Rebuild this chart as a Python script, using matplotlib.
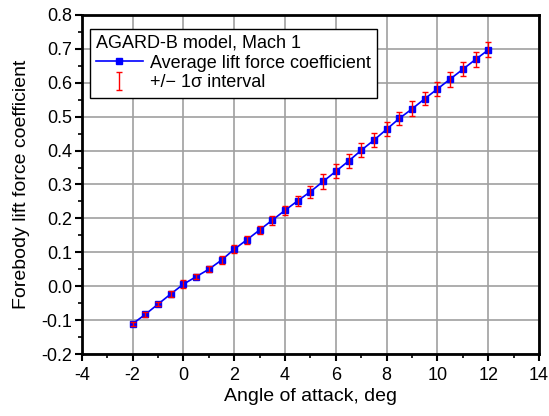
import matplotlib.pyplot as plt
from matplotlib.ticker import MultipleLocator

plt.rcParams['font.family'] = ['Liberation Sans', 'DejaVu Sans']
plt.rcParams['axes.unicode_minus'] = False

# angle of attack, deg
alpha = [-2.0, -1.5, -1.0, -0.5, 0.0, 0.5, 1.0, 1.5, 2.0, 2.5, 3.0, 3.5, 4.0, 4.5,
         5.0, 5.5, 6.0, 6.5, 7.0, 7.5, 8.0, 8.5, 9.0, 9.5, 10.0, 10.5, 11.0, 11.5, 12.0]
# average forebody lift force coefficient
cl_mean = [-0.111, -0.083, -0.053, -0.023, 0.006, 0.028, 0.050, 0.077, 0.109, 0.137,
           0.166, 0.195, 0.224, 0.252, 0.279, 0.309, 0.339, 0.369, 0.401, 0.431,
           0.463, 0.495, 0.523, 0.553, 0.582, 0.611, 0.640, 0.669, 0.697]
# 1 sigma
cl_sigma = [0.005, 0.007, 0.006, 0.009, 0.012, 0.008, 0.009, 0.011, 0.012, 0.012,
            0.011, 0.013, 0.014, 0.014, 0.018, 0.021, 0.021, 0.021, 0.021, 0.020,
            0.021, 0.020, 0.022, 0.020, 0.021, 0.022, 0.021, 0.022, 0.022]

fig = plt.figure(figsize=(5.49, 4.16), dpi=100)
ax = fig.add_axes([0.149, 0.149, 0.833, 0.815])

ax.plot(alpha, cl_mean, color='blue', lw=1.2, marker='s', ms=4.5,
        label='Average lift force coefficient', zorder=3)
ax.errorbar(alpha, cl_mean, yerr=cl_sigma, fmt='none', ecolor='red', elinewidth=1,
            capsize=2, capthick=1, label='+/\u2212 1\u03c3 interval', zorder=4)

ax.set_xlim(-4, 14)
ax.set_ylim(-0.2, 0.8)
ax.xaxis.set_major_locator(MultipleLocator(2))
ax.xaxis.set_minor_locator(MultipleLocator(1))
ax.yaxis.set_major_locator(MultipleLocator(0.1))
ax.yaxis.set_minor_locator(MultipleLocator(0.05))
ax.yaxis.set_major_formatter(plt.FormatStrFormatter('%.1f'))
ax.grid(True, which='major', color='#a0a0a0', lw=1.2)
ax.set_axisbelow(True)

for s in ax.spines.values():
    s.set_linewidth(2)
ax.tick_params(which='major', direction='out', length=5, width=1.5, labelsize=13)
ax.tick_params(axis='x', which='major', pad=4)
ax.tick_params(axis='y', which='major', pad=2)
ax.tick_params(which='minor', direction='out', length=3, width=1.2)

ax.set_xlabel('Angle of attack, deg', fontsize=14, labelpad=3)
ax.set_ylabel('Forebody lift force coefficient', fontsize=14, labelpad=8)

leg = ax.legend(title='AGARD-B model, Mach 1', loc='upper left',
                bbox_to_anchor=(0.017, 0.96), fontsize=13, title_fontsize=13,
                alignment='left', fancybox=False, edgecolor='black', framealpha=1,
                handlelength=2.6, handletextpad=0.4, borderpad=0.35, labelspacing=0.15,
                borderaxespad=0)
leg.get_frame().set_linewidth(1)

fig.savefig('out.png', dpi=100)
